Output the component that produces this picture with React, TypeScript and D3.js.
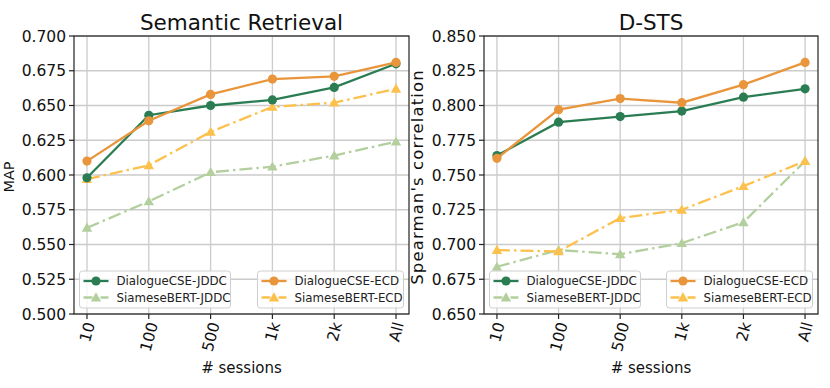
import React from "react";
import * as d3 from "d3";

// x categories: number of training sessions
const sessions = ["10", "100", "500", "1k", "2k", "All"];

// Semantic Retrieval (MAP)
const srCseJddc = [0.598, 0.643, 0.65, 0.654, 0.663, 0.68];
const srBertJddc = [0.562, 0.581, 0.602, 0.606, 0.614, 0.624];
const srCseEcd = [0.61, 0.639, 0.658, 0.669, 0.671, 0.681];
const srBertEcd = [0.597, 0.607, 0.631, 0.649, 0.652, 0.662];
const srTicks = [0.5, 0.525, 0.55, 0.575, 0.6, 0.625, 0.65, 0.675, 0.7];

// D-STS (Spearman's correlation)
const stsCseJddc = [0.764, 0.788, 0.792, 0.796, 0.806, 0.812];
const stsBertJddc = [0.684, 0.696, 0.693, 0.701, 0.716, 0.76];
const stsCseEcd = [0.762, 0.797, 0.805, 0.802, 0.815, 0.831];
const stsBertEcd = [0.696, 0.695, 0.719, 0.725, 0.742, 0.76];
const stsTicks = [0.65, 0.675, 0.7, 0.725, 0.75, 0.775, 0.8, 0.825, 0.85];

const seriesNames = ["DialogueCSE-JDDC", "SiameseBERT-JDDC", "DialogueCSE-ECD", "SiameseBERT-ECD"];

const STYLES = [
  { color: "#2a7d52", marker: "circle", dash: null },
  { color: "#b3cf9e", marker: "triangle", dash: "13,4,2.5,4" },
  { color: "#e8953b", marker: "circle", dash: null },
  { color: "#fcc14d", marker: "triangle", dash: "13,4,2.5,4" },
];

const FONT = "DejaVu Sans, sans-serif";
const TOP = 36;
const BOTTOM = 314;
const TICK_FS = 15.5;

// rough DejaVu Sans advance widths (em) for the x labels
const CHAR_W: Record<string, number> = { k: 0.579, A: 0.684, l: 0.278 };
const textW = (s: string, fs: number) =>
  s.split("").reduce((a, c) => a + (CHAR_W[c] ?? 0.636), 0) * fs;

const Marker = ({ type, x, y, color }) => {
  if (type === "circle") return <circle cx={x} cy={y} r={4.6} fill={color} />;
  const s = 5.2;
  return (
    <path
      d={`M${x},${y - s} L${x + s},${y + s * 0.75} L${x - s},${y + s * 0.75} Z`}
      fill={color}
    />
  );
};

const LegendBox = ({ x, y, width, items }) => (
  <g transform={`translate(${x},${y})`}>
    <rect width={width} height={37} rx={3} fill="white" fillOpacity={0.8} stroke="#cfcfcf" />
    {items.map((it, i) => {
      const cy = 10 + i * 16.5;
      const st = STYLES[it];
      return (
        <g key={it}>
          <line
            x1={4}
            x2={29}
            y1={cy}
            y2={cy}
            stroke={st.color}
            strokeWidth={2.3}
            strokeDasharray={st.dash ? "9,3,2,3" : undefined}
          />
          <Marker type={st.marker} x={16.5} y={cy} color={st.color} />
          <text x={37} y={cy} dy="0.35em" fontSize={11.8} fontFamily={FONT} fill="#222">
            {seriesNames[it]}
          </text>
        </g>
      );
    })}
  </g>
);

const Panel = ({ x0, x1, title, ylabel, ylabelX, ylabelFs, ylabelSpacing, ticks, series }) => {
  const xScale = d3.scalePoint().domain(sessions).range([x0, x1]).padding(0.21);
  const yScale = d3
    .scaleLinear()
    .domain([ticks[0], ticks[ticks.length - 1]])
    .range([BOTTOM, TOP]);
  const line = d3
    .line<number>()
    .x((_, i) => xScale(sessions[i]))
    .y((d) => yScale(d));
  const fmt = d3.format(".3f");
  const cx = (x0 + x1) / 2;

  return (
    <g fontFamily={FONT}>
      {/* grid */}
      {ticks.map((t) => (
        <line key={"gy" + t} x1={x0} x2={x1} y1={yScale(t)} y2={yScale(t)} stroke="#cbcbcb" strokeWidth={1.3} />
      ))}
      {sessions.map((s) => (
        <line key={"gx" + s} x1={xScale(s)} x2={xScale(s)} y1={TOP} y2={BOTTOM} stroke="#cbcbcb" strokeWidth={1.3} />
      ))}
      {/* series: draw light ones first */}
      {[1, 3, 0, 2].map((k) => {
        const st = STYLES[k];
        return (
          <g key={k}>
            <path
              d={line(series[k])}
              fill="none"
              stroke={st.color}
              strokeWidth={2.3}
              strokeDasharray={st.dash || undefined}
            />
            {series[k].map((v, i) => (
              <Marker key={i} type={st.marker} x={xScale(sessions[i])} y={yScale(v)} color={st.color} />
            ))}
          </g>
        );
      })}
      {/* legends */}
      <LegendBox x={x0 + 5.5} y={271} width={151} items={[0, 1]} />
      <LegendBox x={x1 - 5.5 - 146} y={271} width={146} items={[2, 3]} />
      {/* spines */}
      <rect x={x0} y={TOP} width={x1 - x0} height={BOTTOM - TOP} fill="none" stroke="#222" strokeWidth={1.2} />
      {/* y ticks */}
      {ticks.map((t) => (
        <g key={"yt" + t}>
          <line x1={x0 - 5} x2={x0} y1={yScale(t)} y2={yScale(t)} stroke="#222" strokeWidth={1.2} />
          <text x={x0 - 8} y={yScale(t)} dy="0.36em" textAnchor="end" fontSize={TICK_FS} fill="#111">
            {fmt(t)}
          </text>
        </g>
      ))}
      {/* x ticks, rotated 75deg */}
      {sessions.map((s) => {
        const w = textW(s, TICK_FS);
        const h = w * Math.sin((75 * Math.PI) / 180) + TICK_FS * 0.75 * Math.cos((75 * Math.PI) / 180);
        const cy = 321 + h / 2;
        return (
          <g key={"xt" + s}>
            <line x1={xScale(s)} x2={xScale(s)} y1={BOTTOM} y2={BOTTOM + 5} stroke="#222" strokeWidth={1.2} />
            <text
              transform={`translate(${xScale(s)},${cy}) rotate(-75)`}
              textAnchor="middle"
              dy="0.36em"
              fontSize={TICK_FS}
              fill="#111"
            >
              {s}
            </text>
          </g>
        );
      })}
      <text x={cx} y={373} textAnchor="middle" fontSize={15} fill="#111">
        # sessions
      </text>
      <text x={cx} y={30} textAnchor="middle" fontSize={21.5} fill="#111">
        {title}
      </text>
      <text
        transform={`translate(${ylabelX},${(TOP + BOTTOM) / 2 + 2}) rotate(-90)`}
        textAnchor="middle"
        fontSize={ylabelFs}
        letterSpacing={ylabelSpacing}
        fill="#111"
      >
        {ylabel}
      </text>
    </g>
  );
};

export default function App() {
  return (
    <svg
      width={830}
      height={388}
      style={{ position: "absolute", left: 0, top: 0, background: "white" }}
    >
      <Panel
        x0={74}
        x1={409}
        title="Semantic Retrieval"
        ylabel="MAP"
        ylabelX={14}
        ylabelFs={14.5}
        ylabelSpacing={0}
        ticks={srTicks}
        series={[srCseJddc, srBertJddc, srCseEcd, srBertEcd]}
      />
      <Panel
        x0={484}
        x1={818}
        title="D-STS"
        ylabel="Spearman's correlation"
        ylabelX={423}
        ylabelFs={16.5}
        ylabelSpacing={1.1}
        ticks={stsTicks}
        series={[stsCseJddc, stsBertJddc, stsCseEcd, stsBertEcd]}
      />
    </svg>
  );
}
